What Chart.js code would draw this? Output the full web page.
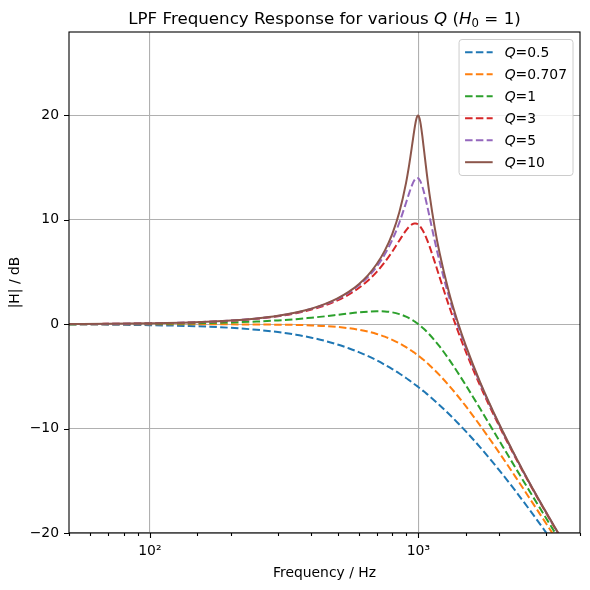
<!DOCTYPE html>
<html>
<head>
<meta charset="utf-8">
<script src="https://cdn.jsdelivr.net/npm/chart.js@4"></script>
<style>
  html, body { margin: 0; padding: 0; background: #fff; }
  #wrap { width: 590px; height: 590px; position: relative; }
</style>
</head>
<body>
<div id="wrap"><canvas id="lpfChart"></canvas></div>
<script>
const FONT = "'DejaVu Sans', sans-serif";
const FS = 13.9; // 10pt text

// frequency points (Hz)
const freqs = [50, 70, 100, 140, 200, 250, 300, 350, 400, 450, 500, 550, 600, 650, 700, 750, 800, 850, 900, 925,
    950, 965, 980, 990, 1000, 1010, 1020, 1035, 1050, 1075, 1100, 1150, 1200, 1300, 1400, 1500, 1700, 2000, 2300, 2600,
    3000, 3500, 4000];

// |H| in dB, one array per Q
const q05 = [-0.02, -0.04, -0.09, -0.17, -0.34, -0.53, -0.75, -1.00, -1.29, -1.60, -1.94, -2.30, -2.67, -3.06, -3.46,
    -3.88, -4.30, -4.72, -5.15, -5.37, -5.59, -5.72, -5.85, -5.93, -6.02, -6.11, -6.19, -6.32, -6.45, -6.67, -6.89,
    -7.32, -7.75, -8.60, -9.43, -10.24, -11.80, -13.98, -15.97, -17.80, -20.00, -22.44, -24.61];
const q0707 = [0.00, 0.00, 0.00, 0.00, -0.01, -0.02, -0.04, -0.06, -0.11, -0.17, -0.26, -0.38, -0.53, -0.71, -0.93,
    -1.19, -1.49, -1.82, -2.19, -2.39, -2.59, -2.71, -2.84, -2.92, -3.01, -3.10, -3.19, -3.32, -3.45, -3.68, -3.92,
    -4.39, -4.88, -5.86, -6.85, -7.83, -9.71, -12.30, -14.62, -16.70, -19.14, -21.79, -24.10];
const q1 = [0.01, 0.02, 0.04, 0.08, 0.17, 0.26, 0.37, 0.49, 0.63, 0.76, 0.90, 1.03, 1.14, 1.21, 1.25,
    1.23, 1.14, 0.97, 0.73, 0.57, 0.40, 0.29, 0.17, 0.09, 0.00, -0.09, -0.18, -0.32, -0.46, -0.72, -0.98,
    -1.54, -2.13, -3.36, -4.60, -5.81, -8.10, -11.14, -13.75, -16.02, -18.63, -21.42, -23.82];
const q3 = [0.02, 0.04, 0.08, 0.16, 0.33, 0.53, 0.77, 1.06, 1.41, 1.81, 2.29, 2.84, 3.47, 4.20, 5.02,
    5.95, 6.97, 8.03, 8.99, 9.36, 9.59, 9.66, 9.65, 9.61, 9.54, 9.44, 9.31, 9.06, 8.76, 8.16, 7.48,
    6.00, 4.51, 1.78, -0.57, -2.58, -5.90, -9.75, -12.79, -15.32, -18.13, -21.07, -23.56];
const q5 = [0.02, 0.04, 0.09, 0.17, 0.35, 0.55, 0.80, 1.11, 1.48, 1.91, 2.42, 3.02, 3.73, 4.55, 5.53,
    6.70, 8.09, 9.75, 11.64, 12.59, 13.41, 13.77, 13.98, 14.02, 13.98, 13.85, 13.64, 13.19, 12.63, 11.52, 10.34,
    8.04, 6.00, 2.65, 0.00, -2.18, -5.67, -9.62, -12.70, -15.26, -18.09, -21.04, -23.53];
const q10 = [0.02, 0.04, 0.09, 0.17, 0.35, 0.56, 0.81, 1.13, 1.50, 1.95, 2.48, 3.10, 3.84, 4.71, 5.77,
    7.05, 8.66, 10.75, 13.55, 15.32, 17.32, 18.53, 19.52, 19.92, 20.00, 19.74, 19.20, 18.02, 16.67, 14.46, 12.50,
    9.31, 6.82, 3.07, 0.26, -2.00, -5.56, -9.56, -12.66, -15.23, -18.07, -21.03, -23.52];

const qLabels = ['0.5', '0.707', '1', '3', '5', '10'];
const series = [q05, q0707, q1, q3, q5, q10];
const colors = ['#1f77b4', '#ff7f0e', '#2ca02c', '#d62728', '#9467bd', '#8c564b'];
const dashes = [[7.5, 3.3], [7.5, 3.3], [7.5, 3.3], [7.5, 3.3], [7.5, 3.3], []];

const yTicks = [-20, -10, 0, 10, 20];

function isDecade(v) {
    const l = Math.log10(v);
    return Math.abs(l - Math.round(l)) < 1e-9;
}

// draw a run of text pieces with different fonts side by side
function richText(ctx, parts, x, y, align) {
    let w = 0;
    parts.forEach(p => { ctx.font = p.font; p.w = ctx.measureText(p.t).width; w += p.w; });
    let cx = align === 'center' ? x - w / 2 : x;
    parts.forEach(p => {
        ctx.font = p.font;
        ctx.fillText(p.t, cx, y + (p.dy || 0));
        cx += p.w;
    });
    return w;
}

const framePlugin = {
    id: 'frame',
    afterDraw(chart) {
        const {ctx, chartArea: a, scales} = chart;
        ctx.save();
        ctx.strokeStyle = '#000';
        ctx.lineWidth = 1.1;

        // tick marks (outward), major longer than minor
        ctx.beginPath();
        scales.x.ticks.forEach(t => {
            const px = Math.round(scales.x.getPixelForValue(t.value)) + 0.5;
            const len = isDecade(t.value) ? 5 : 3;
            ctx.moveTo(px, a.bottom);
            ctx.lineTo(px, a.bottom + len);
        });
        scales.y.ticks.forEach(t => {
            const py = Math.round(scales.y.getPixelForValue(t.value)) + 0.5;
            ctx.moveTo(a.left, py);
            ctx.lineTo(a.left - 5, py);
        });
        ctx.stroke();

        // box round the axes
        ctx.strokeRect(a.left, a.top, a.width, a.height);

        // title with italic Q and H_0
        ctx.fillStyle = '#000';
        ctx.textBaseline = 'alphabetic';
        const tf = '16.7px ' + FONT, ti = 'italic 16.7px ' + FONT;
        richText(ctx, [
            {t: 'LPF Frequency Response for various ', font: tf},
            {t: 'Q', font: ti},
            {t: ' (', font: tf},
            {t: 'H', font: ti},
            {t: '0', font: '11.7px ' + FONT, dy: 3},
            {t: ' = 1)', font: tf}
        ], (a.left + a.right) / 2, 24, 'center');

        // legend, upper right
        const lf = FS + 'px ' + FONT, li = 'italic ' + FS + 'px ' + FONT;
        let maxW = 0;
        qLabels.forEach(q => {
            ctx.font = li; let w = ctx.measureText('Q').width;
            ctx.font = lf; w += ctx.measureText('=' + q).width;
            maxW = Math.max(maxW, w);
        });
        const rowH = 22, handle = 27.6;
        const boxW = 6 + handle + 12 + maxW + 6;
        const boxH = 12.7 + 5 * rowH + 13.3;
        const bx = a.right - 7 - boxW, by = a.top + 7.5;
        ctx.beginPath();
        ctx.roundRect(bx, by, boxW, boxH, 3);
        ctx.fillStyle = 'rgba(255,255,255,0.8)';
        ctx.fill();
        ctx.strokeStyle = '#cccccc';
        ctx.lineWidth = 1;
        ctx.stroke();
        ctx.textBaseline = 'middle';
        qLabels.forEach((q, i) => {
            const cy = by + 12.7 + i * rowH;
            ctx.beginPath();
            ctx.setLineDash(dashes[i]);
            ctx.strokeStyle = colors[i];
            ctx.lineWidth = 2;
            ctx.moveTo(bx + 6, cy);
            ctx.lineTo(bx + 6 + handle, cy);
            ctx.stroke();
            ctx.setLineDash([]);
            ctx.fillStyle = '#000';
            richText(ctx, [{t: 'Q', font: li}, {t: '=' + q, font: lf}], bx + 6 + handle + 12, cy + 1, 'left');
        });
        ctx.restore();
    }
};

const ctx = document.getElementById('lpfChart');

const chart = new Chart(ctx, {
    type: 'line',
    data: {
        datasets: series.map((vals, i) => ({
            label: 'Q=' + qLabels[i],
            data: freqs.map((f, j) => ({x: f, y: vals[j]})),
            borderColor: colors[i],
            borderDash: dashes[i],
            borderWidth: 2,
            pointRadius: 0,
            fill: false,
            cubicInterpolationMode: 'monotone',
            order: series.length - 1 - i // later series on top, like matplotlib
        }))
    },
    options: {
        responsive: true,
        maintainAspectRatio: false,
        animation: false,
        layout: {
            padding: {top: 32, right: 10, left: 0, bottom: 0}
        },
        plugins: {
            legend: {display: false},
            tooltip: {enabled: false},
            title: {display: false}
        },
        scales: {
            x: {
                type: 'logarithmic',
                min: 50,
                max: 4000,
                afterFit(scale) { scale.height = 57; },
                border: {display: false},
                grid: {
                    drawTicks: false,
                    lineWidth: 1.1,
                    color: (c) => (c.tick && isDecade(c.tick.value)) ? '#b0b0b0' : 'rgba(0,0,0,0)'
                },
                ticks: {
                    autoSkip: false,
                    maxRotation: 0,
                    minRotation: 0,
                    padding: 10,
                    color: '#000',
                    font: {family: FONT, size: FS},
                    callback: (v) => {
                        if (!isDecade(v)) return '';
                        return Math.round(Math.log10(v)) === 2 ? '10\u00B2' : '10\u00B3';
                    }
                },
                title: {
                    display: true,
                    text: 'Frequency / Hz',
                    color: '#000',
                    font: {family: FONT, size: FS},
                    padding: {top: 0, bottom: 8.5}
                }
            },
            y: {
                type: 'linear',
                min: -20,
                max: 28,
                afterFit(scale) { scale.width = 69; },
                border: {display: false},
                grid: {
                    drawTicks: false,
                    lineWidth: 1.1,
                    color: '#b0b0b0'
                },
                afterBuildTicks(scale) {
                    scale.ticks = yTicks.map(v => ({value: v}));
                },
                ticks: {
                    padding: 10,
                    color: '#000',
                    font: {family: FONT, size: FS},
                    callback: (v) => (v < 0 ? '\u2212' + Math.abs(v) : '' + v)
                },
                title: {
                    display: true,
                    text: '|H| / dB',
                    color: '#000',
                    font: {family: FONT, size: FS},
                    padding: {top: 7, bottom: 0}
                }
            }
        }
    },
    plugins: [framePlugin]
});
</script>
</body>
</html>
